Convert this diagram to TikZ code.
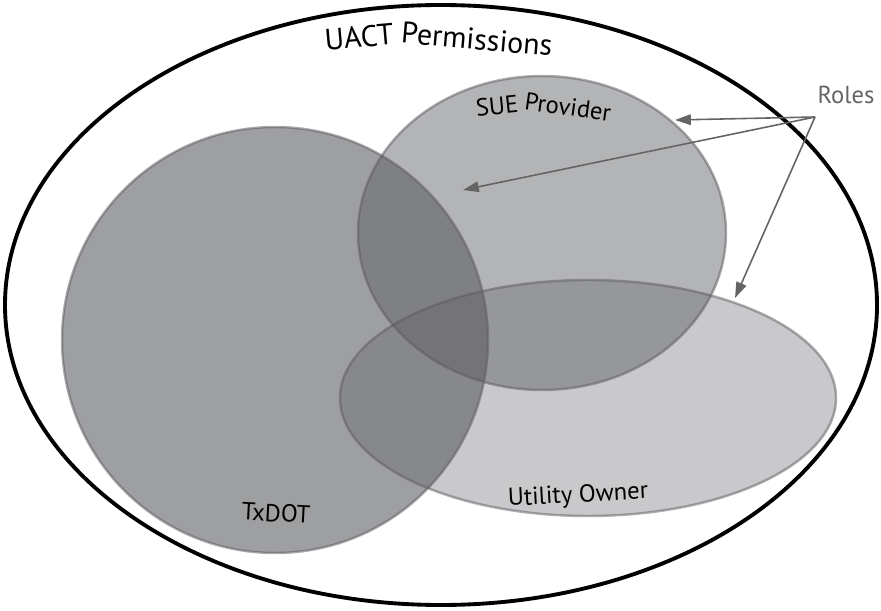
\documentclass[tikz,border=0pt]{standalone}
\usepackage{fontspec}
\setmainfont{PT Sans}
\usetikzlibrary{arrows.meta,positioning}
\definecolor{setgray}{RGB}{90,91,96}
\definecolor{rolegray}{RGB}{100,100,102}

\begin{document}
\begin{tikzpicture}[
    setfill/.style={fill=setgray, draw=setgray, draw opacity=0.5, line width=1.4pt},
    lbl/.style={font=\fontsize{14}{16}\selectfont, inner sep=0pt},
    biglbl/.style={font=\fontsize{17}{20}\selectfont, inner sep=0pt},
    rolearrow/.style={draw=rolegray, line width=0.9pt, -{Triangle[length=9pt,width=6pt]}}
]
    \useasboundingbox (0,0) rectangle (17.62,-12.22);

    % permissions
    \draw[line width=2.2pt] (8.82,-6.10) ellipse [x radius=8.72, y radius=6.00];

    % roles
    \draw[setfill, fill opacity=0.59] (5.50,-6.80) circle [radius=4.26];
    \draw[setfill, fill opacity=0.46] (10.84,-4.66) ellipse [x radius=3.68, y radius=3.14];
    \draw[setfill, fill opacity=0.33] (11.76,-7.96) ellipse [x radius=4.96, y radius=2.36];

    \node[biglbl, rotate=5] (uact) at (7.18,-0.74) {UACT};
    \node[biglbl, rotate=-5] (perm) at (9.54,-0.78) {Permissions};
    \node[lbl, rotate=6] (sue) at (9.94,-2.12) {SUE};
    \node[lbl, rotate=-8] (provider) at (11.36,-2.14) {Provider};
    \node[lbl, rotate=-3] (txdot) at (5.52,-10.26) {TxDOT};
    \node[lbl, rotate=3] (owner) at (11.56,-9.92) {Utility Owner};
    \node[lbl, text=rolegray] (roles) at (16.92,-1.90) {Roles};

    \coordinate (fork) at (16.30,-2.34);
    \coordinate (tosue) at (13.50,-2.40);
    \coordinate (tomix) at (9.26,-3.80);
    \coordinate (toowner) at (14.70,-5.96);

    \draw[rolearrow] (fork) -- (tosue);
    \draw[rolearrow] (fork) -- (tomix);
    \draw[rolearrow] (fork) -- (toowner);
\end{tikzpicture}
\end{document}
